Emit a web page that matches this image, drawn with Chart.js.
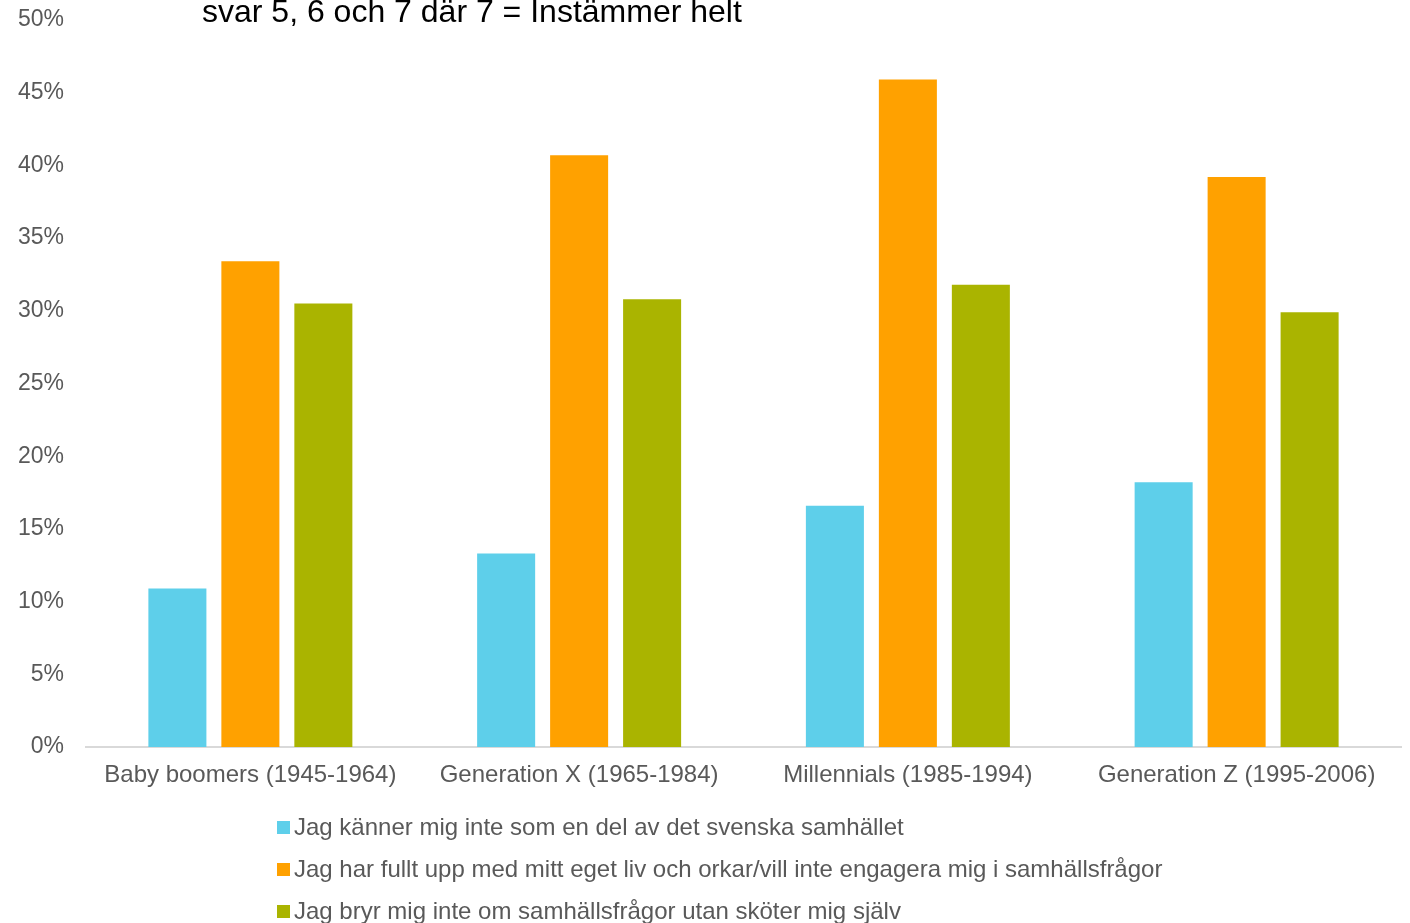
<!DOCTYPE html>
<html>
<head>
<meta charset="utf-8">
<script src="https://cdn.jsdelivr.net/npm/chart.js@4.4.1/dist/chart.umd.min.js"></script>
<style>
  html, body { margin: 0; padding: 0; background: #ffffff; }
  #wrap { position: relative; width: 1410px; height: 923px; }
</style>
</head>
<body>
<div id="wrap"><canvas id="c"></canvas></div>
<script>
const titleText = "svar 5, 6 och 7 där 7 = Instämmer helt";
const categories = ["Baby boomers (1945-1964)", "Generation X (1965-1984)", "Millennials (1985-1994)", "Generation Z (1995-2006)"];
const seriesNames = [
  "Jag känner mig inte som en del av det svenska samhället",
  "Jag har fullt upp med mitt eget liv och orkar/vill inte engagera mig i samhällsfrågor",
  "Jag bryr mig inte om samhällsfrågor utan sköter mig själv"
];
const notPart = [10.9, 13.3, 16.6, 18.2];
const tooBusy = [33.4, 40.7, 45.9, 39.2];
const dontCare = [30.5, 30.8, 31.8, 29.9];
const seriesColors = ["#5ECFEA", "#FFA100", "#AAB400"];
const yMax = 50, yStep = 5;

const FONT = "'Liberation Sans', Arial, sans-serif";

const overlay = {
  id: 'overlay',
  afterDraw(chart) {
    const ctx = chart.ctx;
    ctx.save();
    ctx.fillStyle = '#000000';
    ctx.font = '32px ' + FONT;
    ctx.textBaseline = 'alphabetic';
    ctx.textAlign = 'left';
    ctx.fillText(titleText, 202, 22);
    // legend
    ctx.font = '24px ' + FONT;
    ctx.textBaseline = 'middle';
    const ys = [827, 869, 911];
    chart.data.datasets.forEach((ds, i) => {
      ctx.fillStyle = ds.backgroundColor;
      ctx.fillRect(277, ys[i] - 6, 13, 13);
      ctx.fillStyle = '#595959';
      ctx.fillText(ds.label, 294, ys[i] + 1);
    });
    ctx.restore();
  }
};

const datasets = [notPart, tooBusy, dontCare].map((d, i) => ({
  label: seriesNames[i],
  data: d,
  backgroundColor: seriesColors[i],
  borderWidth: 0,
  categoryPercentage: 0.666,
  barPercentage: 0.795
}));

new Chart(document.getElementById('c'), {
  type: 'bar',
  data: { labels: categories, datasets },
  plugins: [overlay],
  options: {
    responsive: true,
    maintainAspectRatio: false,
    animation: false,
    layout: { padding: { top: 20, right: 9, bottom: 0, left: 0 } },
    plugins: { legend: { display: false }, title: { display: false }, tooltip: { enabled: false } },
    scales: {
      x: {
        grid: { display: false, drawTicks: false },
        border: { display: true, color: '#D9D9D9', width: 2 },
        ticks: { color: '#595959', font: { family: FONT, size: 24 }, padding: 14, maxRotation: 0, autoSkip: false },
        afterFit(scale) { scale.height = 176; }
      },
      y: {
        min: 0, max: yMax,
        grid: { display: false, drawTicks: false },
        border: { display: false },
        ticks: { stepSize: yStep, color: '#595959', font: { family: FONT, size: 23 }, padding: 22,
          callback: v => v + '%' },
        afterFit(scale) { scale.width = 86; scale.paddingTop = 0; scale.paddingBottom = 0; }
      }
    }
  }
});
</script>
</body>
</html>
